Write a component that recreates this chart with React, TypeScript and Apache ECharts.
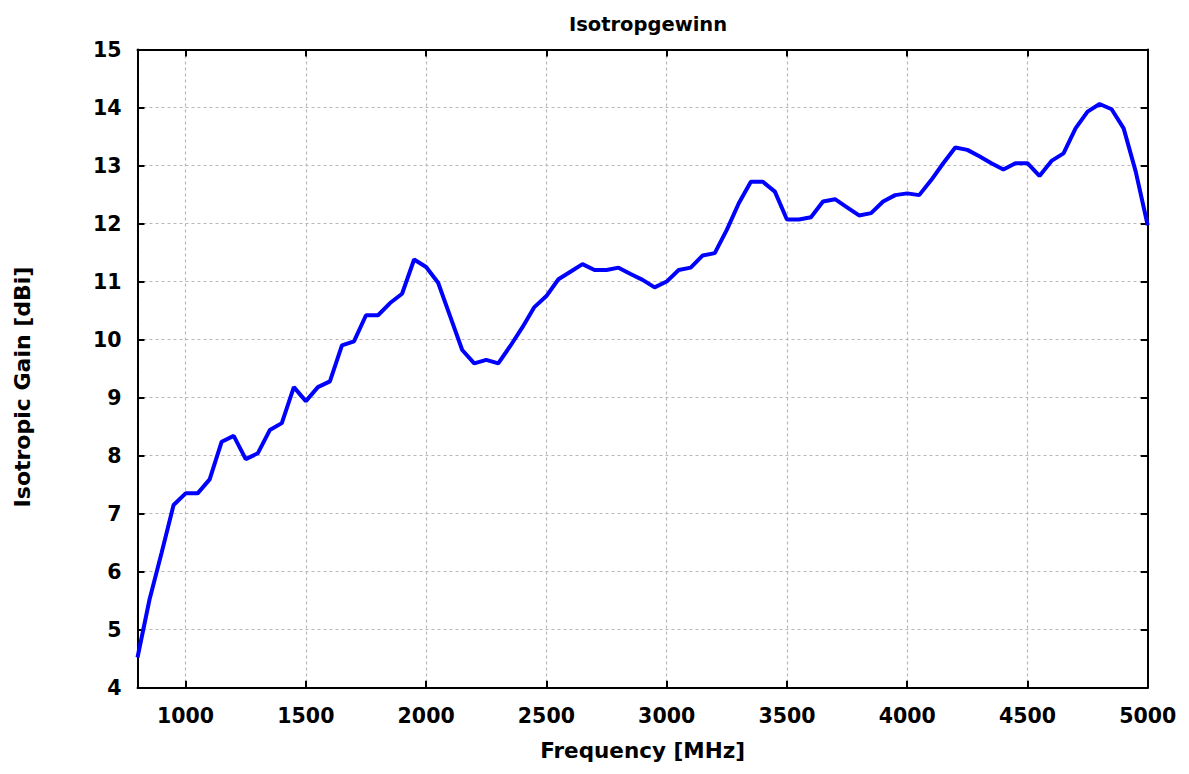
import React, { useEffect, useRef } from "react";
import * as echarts from "echarts";

const frequencies: number[] = [
  800, 850, 900, 950, 1000, 1050, 1100, 1150, 1200, 1250, 1300, 1350, 1400, 1450, 1500,
  1550, 1600, 1650, 1700, 1750, 1800, 1850, 1900, 1950, 2000, 2050, 2100, 2150, 2200,
  2250, 2300, 2350, 2400, 2450, 2500, 2550, 2600, 2650, 2700, 2750, 2800, 2850, 2900,
  2950, 3000, 3050, 3100, 3150, 3200, 3250, 3300, 3350, 3400, 3450, 3500, 3550, 3600,
  3650, 3700, 3750, 3800, 3850, 3900, 3950, 4000, 4050, 4100, 4150, 4200, 4250, 4300,
  4350, 4400, 4450, 4500, 4550, 4600, 4650, 4700, 4750, 4800, 4850, 4900, 4950, 5000,
];

const gainDbi: number[] = [
  4.52, 5.52, 6.32, 7.15, 7.35, 7.35, 7.59, 8.24, 8.34, 7.94, 8.04, 8.44, 8.56, 9.18, 8.94,
  9.18, 9.28, 9.9, 9.97, 10.42, 10.42, 10.63, 10.79, 11.38, 11.25, 10.98, 10.4, 9.82, 9.59,
  9.65, 9.59, 9.89, 10.21, 10.56, 10.75, 11.04, 11.17, 11.3, 11.2, 11.2, 11.24, 11.13, 11.03,
  10.9, 11.0, 11.2, 11.24, 11.45, 11.49, 11.89, 12.35, 12.72, 12.72, 12.55, 12.07, 12.07, 12.11,
  12.38, 12.42, 12.28, 12.14, 12.18, 12.38, 12.49, 12.52, 12.49, 12.75, 13.04, 13.31, 13.27, 13.16,
  13.04, 12.93, 13.04, 13.04, 12.82, 13.08, 13.21, 13.64, 13.93, 14.06, 13.97, 13.64, 12.9, 11.97,
];

const chartTitle = "Isotropgewinn";
const xAxisName = "Frequency [MHz]";
const yAxisName = "Isotropic Gain [dBi]";
const xMin = 800;
const xMax = 5000;
const yMin = 4;
const yMax = 15;

export default function App() {
  const ref = useRef<HTMLDivElement | null>(null);

  useEffect(() => {
    document.body.style.margin = "0";
    if (!ref.current) return;
    const chart = echarts.init(ref.current, null, { renderer: "svg" });
    const font = "'DejaVu Sans', 'Liberation Sans', Arial, sans-serif";
    const data = frequencies.map((f, i) => [f, gainDbi[i]]);
    const gridLine = { show: true, lineStyle: { color: "#b8b8b8", type: [3, 3] as any, width: 1.2 } };
    const tick = { show: true, inside: true, length: 7, lineStyle: { color: "#000", width: 2 } };
    const axisLine = { show: true, onZero: false, lineStyle: { color: "#000", width: 2 } };

    chart.setOption({
      animation: false,
      backgroundColor: "#ffffff",
      title: {
        text: chartTitle,
        left: 643,
        top: 9,
        textAlign: "center",
        textStyle: { fontFamily: font, fontWeight: "bold", fontSize: 19.5, color: "#000" },
      },
      graphic: [
        {
          type: "text",
          x: 22,
          y: 387,
          rotation: Math.PI / 2,
          style: {
            text: yAxisName,
            fontFamily: font,
            fontWeight: "bold",
            fontSize: 22,
            fill: "#000",
            textAlign: "center",
            textVerticalAlign: "middle",
          },
        },
      ],
      grid: { left: 137.5, right: 41.3, top: 49.5, bottom: 86.3, containLabel: false },
      xAxis: [
        {
          type: "value",
          min: xMin,
          max: xMax,
          splitNumber: 8,
          name: xAxisName,
          nameLocation: "middle",
          nameGap: 52,
          nameTextStyle: { fontFamily: font, fontWeight: "bold", fontSize: 21.5, color: "#000" },
          axisLine,
          axisTick: tick,
          splitLine: gridLine,
          axisLabel: {
            showMinLabel: false,
            margin: 18,
            formatter: (v: number) => String(v),
            fontFamily: font,
            fontWeight: "bold",
            fontSize: 20.5,
            color: "#000",
          },
        },
        {
          type: "value",
          position: "top",
          min: xMin,
          max: xMax,
          splitNumber: 8,
          axisLine,
          axisTick: tick,
          splitLine: { show: false },
          axisLabel: { show: false },
        },
      ],
      yAxis: [
        {
          type: "value",
          min: yMin,
          max: yMax,
          interval: 1,
          axisLine,
          axisTick: tick,
          splitLine: gridLine,
          axisLabel: { margin: 16, fontFamily: font, fontWeight: "bold", fontSize: 20.5, color: "#000" },
        },
        {
          type: "value",
          position: "right",
          min: yMin,
          max: yMax,
          interval: 1,
          axisLine,
          axisTick: tick,
          splitLine: { show: false },
          axisLabel: { show: false },
        },
      ],
      series: [
        {
          type: "line",
          data,
          xAxisIndex: 0,
          yAxisIndex: 0,
          showSymbol: false,
          symbol: "none",
          lineStyle: { color: "#0000ff", width: 4 },
          clip: true,
        },
      ],
    });

    return () => chart.dispose();
  }, []);

  return <div ref={ref} style={{ width: 1189, height: 774 }} />;
}
